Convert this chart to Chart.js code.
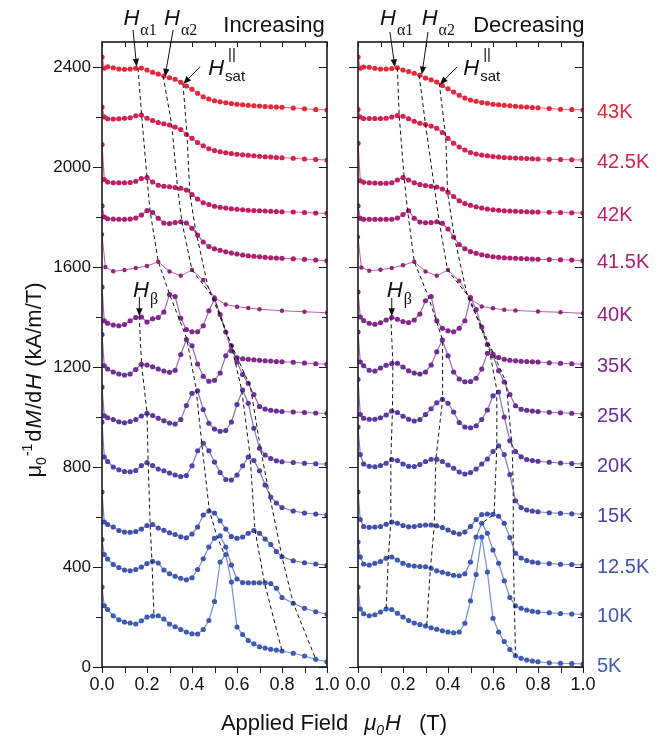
<!DOCTYPE html>
<html lang="en">
<head>
<meta charset="UTF-8" />
<title>dM/dH vs applied field</title>
<script src="https://cdn.jsdelivr.net/npm/chart.js"></script>
<style>
  body { margin: 0; background: #fff; }
  #wrap { position: relative; width: 660px; height: 740px; }
  canvas { position: absolute; left: 0; top: 0; }
</style>
</head>
<body>
<div id="wrap">
  <canvas id="incChart" width="660" height="740"></canvas>
  <canvas id="decChart" width="660" height="740"></canvas>
</div>
<script>
// field values (T) shared by most curves; 40K was measured on a coarser grid
const field = [0, 0.01, 0.025, 0.05, 0.075, 0.1, 0.125, 0.15, 0.175, 0.2, 0.225, 0.25, 0.275, 0.3, 0.325, 0.35, 0.375, 0.4, 0.425, 0.45, 0.475, 0.5, 0.525, 0.55, 0.575, 0.6, 0.625, 0.65, 0.675, 0.7, 0.725, 0.75, 0.775, 0.8, 0.85, 0.9, 0.95, 1.0];
const fieldSparse = [0, 0.015, 0.05, 0.1, 0.15, 0.2, 0.25, 0.3, 0.35, 0.4, 0.45, 0.5, 0.55, 0.6, 0.65, 0.7, 0.8, 0.9, 1.0];

const temps = ['43K', '42.5K', '42K', '41.5K', '40K', '35K', '25K', '20K', '15K', '12.5K', '10K', '5K'];
const colors = ['#e5293a', '#d3224f', '#bf1f62', '#a91f72', '#92237f', '#7e2a8b', '#6c3093', '#5b399c', '#4b45a6', '#4350ab', '#3e58af', '#3d5cb1'];

const yTicks = [0, 400, 800, 1200, 1600, 2000, 2400];
const xTicks = [0, 0.2, 0.4, 0.6, 0.8, 1.0];

// increasing field (offset curves, kA/m/T)
const inc43   = [2440, 2395, 2401, 2397, 2392, 2391, 2392, 2395, 2396, 2388, 2379, 2372, 2364, 2357, 2351, 2339, 2324, 2311, 2295, 2281, 2272, 2265, 2261, 2257, 2254, 2251, 2249, 2247, 2245, 2244, 2242, 2241, 2240, 2239, 2236, 2233, 2230, 2228];
const inc42_5 = [2240, 2200, 2193, 2192, 2193, 2195, 2197, 2205, 2208, 2195, 2186, 2178, 2173, 2168, 2160, 2150, 2131, 2115, 2098, 2085, 2073, 2066, 2061, 2057, 2054, 2051, 2049, 2047, 2045, 2043, 2041, 2040, 2038, 2037, 2035, 2032, 2030, 2028];
const inc42   = [2090, 1950, 1940, 1937, 1937, 1937, 1938, 1943, 1954, 1958, 1940, 1927, 1923, 1921, 1918, 1915, 1908, 1890, 1872, 1857, 1850, 1843, 1839, 1836, 1833, 1831, 1829, 1827, 1826, 1825, 1824, 1823, 1822, 1821, 1820, 1818, 1816, 1815];
const inc41_5 = [1845, 1800, 1793, 1792, 1791, 1791, 1792, 1796, 1808, 1826, 1818, 1795, 1776, 1774, 1778, 1781, 1776, 1755, 1728, 1700, 1682, 1673, 1667, 1661, 1656, 1652, 1648, 1645, 1643, 1641, 1639, 1637, 1636, 1635, 1633, 1631, 1628, 1625];
const inc40   = [1730, 1600, 1583, 1588, 1596, 1604, 1621, 1582, 1565, 1588, 1548, 1478, 1450, 1441, 1436, 1431, 1425, 1421, 1417];
const inc35   = [1520, 1385, 1375, 1368, 1365, 1370, 1385, 1398, 1400, 1380, 1393, 1398, 1420, 1490, 1482, 1395, 1350, 1341, 1341, 1365, 1425, 1472, 1410, 1340, 1265, 1237, 1233, 1231, 1229, 1227, 1225, 1224, 1222, 1221, 1219, 1216, 1213, 1211];
const inc25   = [1330, 1205, 1192, 1180, 1172, 1168, 1172, 1190, 1211, 1208, 1201, 1192, 1184, 1179, 1187, 1250, 1310, 1285, 1212, 1163, 1143, 1147, 1176, 1245, 1285, 1220, 1170, 1135, 1090, 1042, 1032, 1027, 1024, 1022, 1020, 1018, 1016, 1015];
const inc20   = [1120, 1005, 997, 990, 981, 977, 982, 990, 1004, 1015, 1006, 995, 985, 976, 972, 990, 1046, 1095, 1105, 1030, 975, 952, 943, 946, 980, 1050, 1108, 1055, 955, 875, 848, 834, 825, 821, 818, 815, 813, 812];
const inc15   = [980, 840, 822, 800, 789, 782, 781, 786, 806, 818, 806, 792, 785, 776, 768, 762, 766, 805, 865, 895, 865, 820, 778, 750, 748, 768, 805, 840, 826, 785, 728, 680, 656, 638, 624, 616, 612, 608];
const inc12_5 = [700, 580, 570, 560, 546, 540, 539, 542, 552, 566, 570, 556, 547, 537, 530, 521, 517, 532, 560, 608, 624, 616, 585, 552, 522, 515, 520, 535, 546, 535, 512, 490, 462, 441, 425, 417, 412, 407];
const inc10   = [510, 450, 432, 410, 398, 388, 385, 390, 400, 414, 423, 416, 388, 373, 363, 355, 349, 357, 390, 433, 480, 515, 525, 480, 408, 352, 338, 337, 337, 337, 337, 334, 315, 278, 255, 235, 221, 211];
const inc5    = [320, 245, 230, 205, 189, 180, 176, 172, 185, 200, 204, 205, 192, 172, 161, 150, 140, 133, 132, 150, 186, 262, 420, 450, 340, 160, 130, 106, 93, 81, 76, 71, 68, 64, 55, 44, 31, 21];

// decreasing field
const dec43   = [2440, 2395, 2400, 2399, 2395, 2392, 2392, 2394, 2397, 2388, 2382, 2375, 2367, 2356, 2349, 2340, 2326, 2313, 2300, 2287, 2276, 2268, 2263, 2258, 2255, 2251, 2249, 2247, 2245, 2243, 2241, 2240, 2238, 2237, 2234, 2231, 2230, 2228];
const dec42_5 = [2230, 2200, 2194, 2194, 2194, 2194, 2195, 2200, 2206, 2203, 2193, 2183, 2175, 2170, 2164, 2155, 2138, 2115, 2095, 2080, 2068, 2058, 2052, 2048, 2045, 2042, 2040, 2038, 2037, 2036, 2035, 2034, 2033, 2032, 2031, 2030, 2029, 2028];
const dec42   = [2095, 1945, 1939, 1937, 1936, 1935, 1935, 1937, 1948, 1958, 1948, 1937, 1930, 1926, 1923, 1920, 1912, 1899, 1882, 1865, 1854, 1847, 1841, 1836, 1832, 1829, 1827, 1825, 1824, 1823, 1822, 1821, 1820, 1820, 1819, 1818, 1817, 1816];
const dec41_5 = [1845, 1795, 1791, 1791, 1791, 1791, 1791, 1791, 1796, 1810, 1825, 1795, 1780, 1777, 1778, 1781, 1775, 1752, 1720, 1690, 1673, 1662, 1655, 1649, 1645, 1641, 1639, 1637, 1636, 1635, 1634, 1633, 1632, 1631, 1630, 1629, 1628, 1625];
const dec40   = [1720, 1598, 1585, 1589, 1596, 1607, 1621, 1582, 1565, 1588, 1545, 1472, 1442, 1435, 1429, 1426, 1422, 1419, 1415];
const dec35   = [1500, 1400, 1386, 1375, 1371, 1377, 1388, 1398, 1391, 1382, 1378, 1388, 1412, 1465, 1482, 1385, 1355, 1345, 1341, 1355, 1385, 1478, 1430, 1360, 1290, 1252, 1238, 1231, 1227, 1225, 1223, 1222, 1221, 1220, 1217, 1215, 1213, 1211];
const dec25   = [1340, 1220, 1205, 1187, 1184, 1196, 1207, 1214, 1215, 1200, 1185, 1176, 1172, 1180, 1208, 1261, 1308, 1245, 1180, 1152, 1141, 1142, 1155, 1192, 1255, 1245, 1185, 1140, 1090, 1045, 1031, 1027, 1024, 1022, 1019, 1017, 1015, 1012];
const dec20   = [1150, 1010, 995, 991, 991, 997, 1008, 1024, 1018, 1003, 991, 984, 990, 1010, 1033, 1057, 1071, 1055, 1020, 978, 960, 957, 965, 990, 1028, 1085, 1100, 1000, 905, 862, 841, 830, 826, 823, 819, 816, 814, 812];
const dec15   = [960, 850, 812, 803, 801, 806, 815, 830, 826, 812, 803, 802, 810, 822, 831, 831, 822, 808, 795, 780, 772, 778, 792, 812, 832, 862, 885, 850, 770, 665, 638, 628, 624, 621, 617, 615, 613, 611];
const dec12_5 = [700, 590, 562, 559, 560, 562, 571, 580, 575, 566, 561, 562, 566, 568, 568, 565, 558, 548, 538, 532, 540, 562, 590, 610, 612, 611, 603, 575, 518, 455, 436, 426, 420, 417, 414, 411, 410, 408];
const dec10   = [500, 440, 412, 408, 415, 422, 435, 440, 428, 415, 407, 404, 402, 401, 395, 385, 379, 373, 367, 365, 373, 420, 520, 575, 535, 468, 415, 345, 278, 245, 235, 228, 223, 220, 217, 214, 212, 211];
const dec5    = [320, 232, 213, 205, 209, 220, 232, 230, 215, 200, 186, 176, 170, 164, 157, 151, 145, 140, 137, 140, 175, 265, 370, 520, 380, 195, 140, 102, 70, 45, 35, 28, 24, 21, 17, 15, 14, 12];

// dashed guide lines through the features
const incBetaX = [0.165, 0.176, 0.2, 0.205, 0.214, 0.222, 0.231];
const incBetaY = [1404, 1211, 1017, 821, 571, 424, 205];
const incA1X = [0.16, 0.176, 0.2, 0.213, 0.25, 0.3, 0.376, 0.418, 0.443, 0.477, 0.51, 0.542];
const incA1Y = [2396, 2208, 1958, 1828, 1621, 1492, 1315, 1115, 897, 627, 525, 455];
const incA2X = [0.272, 0.31, 0.335, 0.355, 0.4, 0.5, 0.575, 0.621, 0.658, 0.68, 0.722, 0.8];
const incA2Y = [2364, 2168, 1925, 1781, 1588, 1472, 1285, 1108, 845, 548, 337, 64];
const incSatX = [0.36, 0.378, 0.39, 0.415, 0.47, 0.56, 0.66, 0.705, 0.745, 0.8, 0.85, 0.95];
const incSatY = [2332, 2128, 1897, 1752, 1525, 1320, 1120, 870, 685, 441, 255, 31];

const decBetaX = [0.146, 0.155, 0.153, 0.146, 0.146, 0.135, 0.125];
const decBetaY = [1399, 1214, 1024, 831, 581, 441, 232];
const decA1X = [0.175, 0.183, 0.205, 0.22, 0.25, 0.31, 0.376, 0.376, 0.346, 0.339, 0.322, 0.305];
const decA1Y = [2397, 2206, 1958, 1828, 1621, 1488, 1308, 1071, 831, 567, 395, 164];
const decA2X = [0.272, 0.3, 0.339, 0.361, 0.398, 0.495, 0.584, 0.617, 0.617, 0.605, 0.55];
const decA2Y = [2367, 2170, 1921, 1781, 1588, 1478, 1268, 1108, 885, 611, 575];
const decSatX = [0.361, 0.39, 0.398, 0.428, 0.487, 0.554, 0.658, 0.685, 0.69, 0.69, 0.695, 0.7];
const decSatY = [2335, 2121, 1899, 1720, 1481, 1350, 1140, 880, 720, 475, 250, 45];

const incCurves = [inc43, inc42_5, inc42, inc41_5, inc40, inc35, inc25, inc20, inc15, inc12_5, inc10, inc5];
const decCurves = [dec43, dec42_5, dec42, dec41_5, dec40, dec35, dec25, dec20, dec15, dec12_5, dec10, dec5];

const SANS = '"Liberation Sans", Arial, sans-serif';
const SERIF = '"Liberation Serif", "Times New Roman", serif';

function fade(hex, a) {
  const n = parseInt(hex.slice(1), 16);
  return `rgba(${n >> 16},${(n >> 8) & 255},${n & 255},${a})`;
}

function buildSets(curves, guides) {
  const sets = curves.map((vals, i) => {
    const sparse = vals.length === fieldSparse.length;
    const xs = sparse ? fieldSparse : field;
    return {
      label: temps[i],
      data: xs.map((x, j) => ({ x: x, y: vals[j] })),
      borderColor: fade(colors[i], 0.7),
      borderWidth: sparse ? 1 : 1.2,
      pointBackgroundColor: colors[i],
      pointBorderWidth: 0,
      pointRadius: sparse ? 2.2 : 2.6,
      order: 1
    };
  });
  guides.forEach(([xs, ys]) => {
    sets.push({
      data: xs.map((x, j) => ({ x: x, y: ys[j] })),
      borderColor: '#111',
      borderWidth: 1,
      borderDash: [4, 3],
      pointRadius: 0,
      order: 0
    });
  });
  return sets;
}

// frame and tick marks (inside at top/right, outside at bottom/left)
const framePlugin = {
  id: 'frame',
  afterDraw(chart) {
    const { ctx, chartArea: a, scales: { x, y } } = chart;
    ctx.save();
    ctx.strokeStyle = '#1a1a1a';
    ctx.lineWidth = 1;
    ctx.beginPath();
    for (let i = 0; i <= 10; i++) {
      const px = Math.round(x.getPixelForValue(i / 10)) + 0.5;
      ctx.moveTo(px, a.bottom); ctx.lineTo(px, a.bottom + 6);
      ctx.moveTo(px, a.top); ctx.lineTo(px, a.top + 5);
    }
    for (let v = 0; v <= 2400; v += 200) {
      const py = Math.round(y.getPixelForValue(v)) + 0.5;
      const major = v % 400 === 0;
      ctx.moveTo(a.left - (major ? 9 : 6), py); ctx.lineTo(a.left, py);
      ctx.moveTo(a.right - (major ? 8 : 5), py); ctx.lineTo(a.right, py);
    }
    ctx.stroke();
    ctx.lineWidth = 1.6;
    ctx.strokeRect(a.left, a.top, a.right - a.left, a.bottom - a.top);
    ctx.restore();
  }
};

function arrow(ctx, x1, y1, x2, y2) {
  const ang = Math.atan2(y2 - y1, x2 - x1);
  const L = 8, W = 3.2;
  const c = Math.cos(ang), s = Math.sin(ang);
  ctx.beginPath();
  ctx.moveTo(x1, y1);
  ctx.lineTo(x2 - L * 0.8 * c, y2 - L * 0.8 * s);
  ctx.stroke();
  ctx.beginPath();
  ctx.moveTo(x2, y2);
  ctx.lineTo(x2 - L * c + W * s, y2 - L * s - W * c);
  ctx.lineTo(x2 - L * c - W * s, y2 - L * s + W * c);
  ctx.closePath();
  ctx.fill();
}

function hLabel(ctx, x, y, sub) {
  ctx.font = 'italic 22px ' + SANS;
  ctx.fillText('H', x, y);
  const w = ctx.measureText('H').width;
  if (sub === 'sat') {
    ctx.font = '15px ' + SANS;
    ctx.fillText('sat', x + w + 1, y + 6);
    ctx.fillText('||', x + w + 4, y - 16);
  } else {
    ctx.font = '16px ' + SERIF;
    ctx.fillText(sub, x + w + 1, y + (sub === 'β' ? 7 : 10));
  }
}

// draws a run of text pieces [text, font, dy, gapAfter]; centred on cx
function textRun(ctx, parts, cx, y) {
  let total = 0;
  parts.forEach(p => { ctx.font = p[1]; total += ctx.measureText(p[0]).width + (p[3] || 0); });
  let x = cx - total / 2;
  parts.forEach(p => {
    ctx.font = p[1];
    ctx.fillText(p[0], x, y + (p[2] || 0));
    x += ctx.measureText(p[0]).width + (p[3] || 0);
  });
}

const incNotes = {
  title: ['Increasing', 0.539, 2541],
  labels: [['α1', 0.095, 2568], ['α2', 0.276, 2568], ['sat', 0.472, 2368], ['β', 0.138, 1480]],
  arrows: [[0.138, 2548, 0.154, 2401], [0.316, 2548, 0.28, 2361], [0.436, 2401, 0.361, 2332], [0.166, 1481, 0.166, 1403]]
};
const decNotes = {
  title: ['Decreasing', 0.512, 2541],
  labels: [['α1', 0.098, 2568], ['α2', 0.283, 2568], ['sat', 0.468, 2368], ['β', 0.128, 1480]],
  arrows: [[0.142, 2540, 0.164, 2399], [0.311, 2540, 0.284, 2370], [0.44, 2400, 0.364, 2330], [0.15, 1476, 0.15, 1403]]
};

function notesPlugin(notes, side) {
  return {
    id: 'notes-' + side,
    afterDraw(chart) {
      const { ctx, chartArea: a, scales: { x, y } } = chart;
      const X = v => x.getPixelForValue(v), Y = v => y.getPixelForValue(v);
      ctx.save();
      ctx.fillStyle = '#111';
      ctx.strokeStyle = '#111';
      ctx.lineWidth = 1;
      ctx.textBaseline = 'alphabetic';
      ctx.font = '22px ' + SANS;
      ctx.fillText(notes.title[0], X(notes.title[1]), Y(notes.title[2]));
      notes.labels.forEach(l => hLabel(ctx, X(l[1]), Y(l[2]), l[0]));
      notes.arrows.forEach(r => arrow(ctx, X(r[0]), Y(r[1]), X(r[2]), Y(r[3])));

      if (side === 'inc') {
        const f = 22;
        textRun(ctx, [
          ['Applied Field', f + 'px ' + SANS, 0, 16],
          ['μ', 'italic ' + f + 'px ' + SANS],
          ['0', 'italic 14px ' + SANS, 5, 1],
          ['H', 'italic ' + f + 'px ' + SANS, 0, 12],
          [' (T)', f + 'px ' + SANS]
        ], 334, 730);
        ctx.translate(41, 380);
        ctx.rotate(-Math.PI / 2);
        textRun(ctx, [
          ['μ', '22px ' + SANS],
          ['0', '14px ' + SANS, 5, 1],
          ['-1', '14px ' + SANS, -9, 2],
          ['d', '22px ' + SANS, 0, 1],
          ['M', 'italic 22px ' + SANS, 0, 1],
          ['/d', '22px ' + SANS, 0, 1],
          ['H', 'italic 22px ' + SANS, 0, 1],
          [' (kA/m/T)', '22px ' + SANS]
        ], 0, 0);
      } else {
        ctx.font = '20px ' + SANS;
        ctx.textBaseline = 'middle';
        chart.data.datasets.forEach((ds, i) => {
          if (i >= temps.length) return;
          const last = ds.data[ds.data.length - 1];
          ctx.fillStyle = colors[i];
          ctx.fillText(temps[i], a.right + 14, Y(last.y) + 2);
        });
      }
      ctx.restore();
    }
  };
}

function makeChart(id, curves, guides, notes, side) {
  const left = side === 'inc';
  return new Chart(document.getElementById(id), {
    type: 'line',
    data: { datasets: buildSets(curves, guides) },
    options: {
      responsive: false,
      animation: false,
      events: [],
      layout: { padding: left ? { top: 42, right: 333, left: 0, bottom: 0 } : { top: 42, right: 77, left: 358, bottom: 0 } },
      plugins: { legend: { display: false }, tooltip: { enabled: false } },
      scales: {
        x: {
          type: 'linear', min: 0, max: 1,
          grid: { display: false, drawTicks: false },
          border: { display: false },
          afterBuildTicks: s => { s.ticks = xTicks.map(v => ({ value: v })); },
          ticks: { callback: v => v.toFixed(1), font: { family: SANS, size: 18 }, color: '#111', padding: 7, maxRotation: 0, autoSkip: false },
          afterFit: s => { s.height = 73; }
        },
        y: {
          display: left,
          min: 0, max: 2500,
          grid: { display: false, drawTicks: false },
          border: { display: false },
          afterBuildTicks: s => { s.ticks = yTicks.map(v => ({ value: v })); },
          ticks: { callback: v => String(v), font: { family: SANS, size: 17 }, color: '#111', padding: 11 },
          afterFit: s => { s.width = left ? 102 : 0; }
        }
      }
    },
    plugins: [framePlugin, notesPlugin(notes, side)]
  });
}

makeChart('incChart', incCurves,
  [[incBetaX, incBetaY], [incA1X, incA1Y], [incA2X, incA2Y], [incSatX, incSatY]], incNotes, 'inc');
makeChart('decChart', decCurves,
  [[decBetaX, decBetaY], [decA1X, decA1Y], [decA2X, decA2Y], [decSatX, decSatY]], decNotes, 'dec');
</script>
</body>
</html>
